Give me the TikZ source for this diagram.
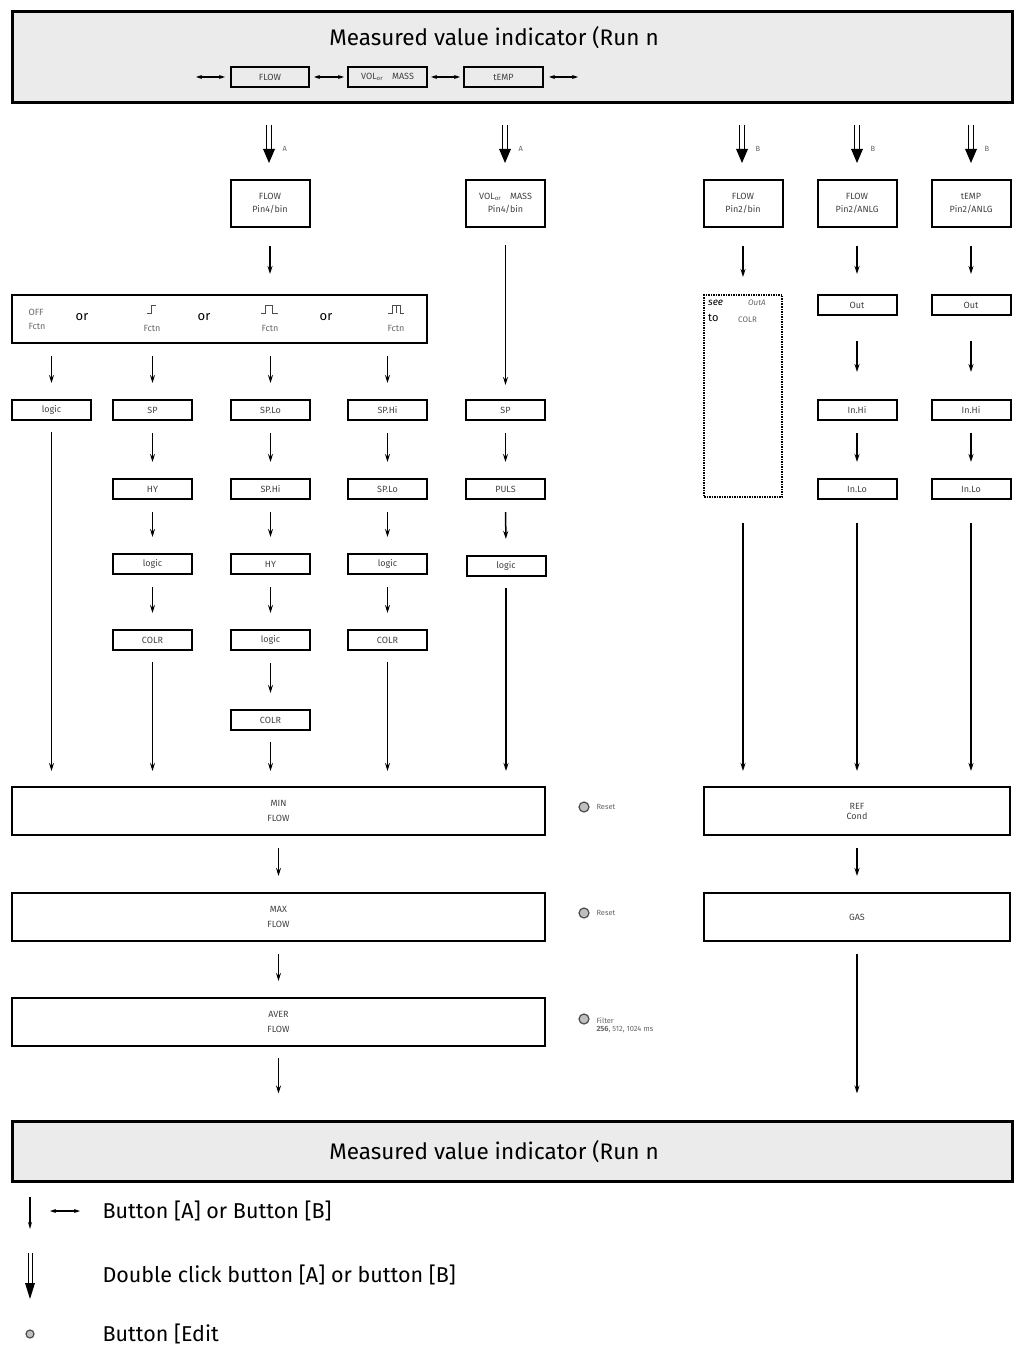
\documentclass[tikz,border=0pt]{standalone}
\usepackage{fontspec}
\setmainfont{Fira Sans}
\usetikzlibrary{arrows.meta,calc}
\begin{document}
\begin{tikzpicture}[x=1pt,y=-1pt,
  box/.style={draw,line width=2pt,minimum width=79pt,minimum height=20pt,inner sep=0pt,font=\fontsize{9}{10}\selectfont,text=black!75,align=center},
  tall/.style={box,minimum height=47pt},
  wide/.style={draw,line width=2pt,minimum height=48pt,inner sep=0pt,font=\fontsize{9}{10}\selectfont,text=black!75,align=center},
  arr/.style={line width=1.5pt,-{Stealth[length=8pt,width=5pt]},shorten <=12pt,shorten >=16pt},
  lng/.style={line width=1.5pt,-{Stealth[length=8pt,width=5pt]},shorten <=11pt,shorten >=15pt},
  harr/.style={line width=1.5pt,{Stealth[length=6pt,width=4pt]}-{Stealth[length=6pt,width=4pt]}},
  dbl/.style={line width=0.9pt},
  lab/.style={font=\fontsize{7.5}{8.5}\selectfont,text=black!60},
  btn/.style={circle,draw=black!70,fill=black!25,line width=1.2pt,minimum size=10pt,inner sep=0pt},
  leg/.style={anchor=west,font=\fontsize{21.5}{24}\selectfont}
]
\useasboundingbox (0,0) rectangle (1018,1348);
% top indicator
\node[draw,line width=3pt,fill=black!8,minimum width=1000pt,minimum height=91pt,inner sep=0pt] (top) at (512,57.5) {};
\node[font=\fontsize{22.5}{26}\selectfont] (toptxt) at (494,38) {Measured value indicator (Run n};
\node[box,minimum width=78pt,fill=black!8] (tf) at (270,77) {FLOW};
\node[box,minimum width=79pt,fill=black!8] (tv) at (387.5,77) {VOL\textsubscript{or}\quad MASS};
\node[box,minimum width=79pt,fill=black!8] (tt) at (503.5,77) {tEMP};
\coordinate (l0) at (196,77); \coordinate (r0) at (578,77);
\draw[harr,shorten >=5pt] (l0) -- (tf.west);
\draw[harr,shorten <=4pt,shorten >=3pt] (tf.east) -- (tv.west);
\draw[harr,shorten <=3pt,shorten >=3pt] (tv.east) -- (tt.west);
\draw[harr,shorten <=5pt] (tt.east) -- (r0);
% row 2 boxes
\node[tall] (f1) at (270,203.5) {FLOW\\[3pt]Pin4/bin};
\node[tall] (v1) at (505.5,203.5) {VOL\textsubscript{or}\quad MASS\\[3pt]Pin4/bin};
\node[tall] (f2) at (743,203.5) {FLOW\\[3pt]Pin2/bin};
\node[tall] (f3) at (857,203.5) {FLOW\\[3pt]Pin2/ANLG};
\node[tall] (t3) at (971,203.5) {tEMP\\[3pt]Pin2/ANLG};
% double arrows
\foreach \n/\x/\l in {da1/269/A,da2/505/A,da3/742/B,da4/857/B,da5/971/B}{
  \coordinate (\n) at (\x,125);
  \draw[dbl] ($(\n)+(-2.5,0)$) -- ++(0,25) ($(\n)+(2.5,0)$) -- ++(0,25);
  \fill ($(\n)+(-6,24)$) -- ($(\n)+(6,24)$) -- ($(\n)+(0,38)$) -- cycle;
  \node[lab,anchor=west] at ($(\n)+(10,24)$) {\l};
}
% Fctn box
\node[wide,minimum width=415pt] (fc) at (219.5,319) {};
\node[lab,font=\fontsize{9}{11}\selectfont,align=left] at (37,319) {OFF\\[3pt]Fctn};
\node[font=\fontsize{13}{14}\selectfont] at (82,317) {or};
\node[font=\fontsize{13}{14}\selectfont] at (204,317) {or};
\node[font=\fontsize{13}{14}\selectfont] at (326,317) {or};
\node[lab,font=\fontsize{9}{10}\selectfont] at (152,328) {Fctn};
\node[lab,font=\fontsize{9}{10}\selectfont] at (270,328) {Fctn};
\node[lab,font=\fontsize{9}{10}\selectfont] at (396,328) {Fctn};
\draw[black!70,line width=0.8pt] (147,313)--(151,313)--(151,305)--(156,305);
\draw[black!70,line width=0.8pt] (261,313)--(265,313)--(265,305)--(272,305)--(272,313)--(278,313);
\draw[black!70,line width=0.8pt] (388,313)--(392,313)--(392,305)--(400,305)--(400,313)--(404,313) (396,305)--(396,313);
% row boxes
\node[box] (lg1) at (51.5,410) {logic};
\node[box] (sp1) at (152.5,410) {SP};
\node[box] (spl) at (270.5,410) {SP.Lo};
\node[box] (sph) at (387.5,410) {SP.Hi};
\node[box] (sp2) at (505.5,410) {SP};
\node[box] (hy1) at (152.5,489) {HY};
\node[box] (sph2) at (270.5,489) {SP.Hi};
\node[box] (spl2) at (387.5,489) {SP.Lo};
\node[box] (pu) at (505.5,489) {PULS};
\node[box] (lg2) at (152.5,564) {logic};
\node[box] (hy2) at (270.5,564) {HY};
\node[box] (lg3) at (387.5,564) {logic};
\node[box] (lg4) at (506,566) {logic};
\node[box] (co1) at (152.5,640) {COLR};
\node[box] (lg5) at (270.5,640) {logic};
\node[box] (co3) at (387.5,640) {COLR};
\node[box] (co2) at (270.5,720) {COLR};
% right column
\node[draw,dash pattern=on 1.5pt off 1pt,line width=2pt,minimum width=78pt,minimum height=202pt,inner sep=0pt] (see) at (743,396) {};
\node[anchor=north west,font=\fontsize{10}{10}\selectfont\itshape,inner sep=0pt] at (708,300) {see};
\node[anchor=north west,font=\fontsize{11}{11}\selectfont,inner sep=0pt] at (708,314) {to};
\node[lab,anchor=north west,inner sep=0pt,font=\fontsize{8}{8}\selectfont\itshape] at (748,300) {OutA};
\node[lab,anchor=north west,inner sep=0pt,font=\fontsize{8}{8}\selectfont] at (738,317) {COLR};
\node[box] (o1) at (857,305) {Out};
\node[box] (o2) at (971,305) {Out};
\node[box] (ih1) at (857,410) {In.Hi};
\node[box] (ih2) at (971,410) {In.Hi};
\node[box] (il1) at (857,489) {In.Lo};
\node[box] (il2) at (971,489) {In.Lo};
% bottom wide boxes
\node[wide,minimum width=533pt] (min) at (278.5,811) {MIN\\[5pt]FLOW};
\node[wide,minimum width=533pt] (max) at (278.5,917) {MAX\\[5pt]FLOW};
\node[wide,minimum width=533pt] (ave) at (278.5,1022) {AVER\\[5pt]FLOW};
\node[wide,minimum width=306pt] (ref) at (857,811) {REF\\Cond};
\node[wide,minimum width=306pt] (gas) at (857,917) {GAS};
\node[btn] (b1) at (584,807) {}; \node[lab,anchor=west] at (593,807) {Reset};
\node[btn] (b2) at (584,913) {}; \node[lab,anchor=west] at (593,913) {Reset};
\node[btn] (b3) at (584,1019) {};
\node[lab,anchor=west,align=left,font=\fontsize{7.5}{8.5}\selectfont] at (593,1025) {Filter\\\textbf{256}, 512, 1024 ms};
% bottom indicator
\node[draw,line width=3pt,fill=black!8,minimum width=1000pt,minimum height=60pt,inner sep=0pt] (bot) at (512,1151) {};
\node[font=\fontsize{22.5}{26}\selectfont] (bottxt) at (494,1152) {Measured value indicator (Run n};
% arrows
\draw[arr,shorten <=18pt,shorten >=20pt] (f1.south) -- (f1.south |- fc.north);
\foreach \a in {lg1,sp1,spl,sph}
  \draw[arr] (\a.north |- fc.south) -- (\a.north);
\draw[lng,shorten <=17pt,shorten >=14pt] (v1.south) -- (sp2.north);
\foreach \a/\b in {sp1/hy1,hy1/lg2,lg2/co1,spl/sph2,sph2/hy2,hy2/lg5,lg5/co2,sph/spl2,spl2/lg3,lg3/co3,sp2/pu,pu/lg4,ih1/il1,ih2/il2}
  \draw[arr] (\a.south) -- (\b.north);
\draw[arr,shorten <=18pt,shorten >=17pt] (f2.south) -- (see.north);
\draw[arr,shorten <=18pt,shorten >=20pt] (f3.south) -- (o1.north);
\draw[arr,shorten <=18pt,shorten >=20pt] (t3.south) -- (o2.north);
\draw[arr,shorten <=25pt,shorten >=27pt] (o1.south) -- (ih1.north);
\draw[arr,shorten <=25pt,shorten >=27pt] (o2.south) -- (ih2.north);
\foreach \a in {lg1,co1,co2,co3,lg4}
  \draw[lng] (\a.south) -- (\a.south |- min.north);
\draw[lng,shorten <=25pt] (see.south) -- (see.south |- ref.north);
\draw[lng,shorten <=23pt] (il1.south) -- (il1.south |- ref.north);
\draw[lng,shorten <=23pt] (il2.south) -- (il2.south |- ref.north);
\draw[arr] (min) -- (max);
\draw[arr] (max) -- (ave);
\draw[arr] (ref) -- (gas);
\draw[lng,shorten >=26pt] (ave.south) -- (ave.south |- bot.north);
\draw[lng,shorten <=12pt,shorten >=26pt] (gas.south) -- (gas.south |- bot.north);
% legend
\coordinate (lg1a) at (30,1197); \coordinate (lg1b) at (30,1229);
\draw[line width=1.3pt,-{Stealth[length=7pt,width=4pt]}] (lg1a) -- (lg1b);
\coordinate (lh1) at (50,1211); \coordinate (lh2) at (80,1211);
\draw[harr] (lh1) -- (lh2);
\node[leg] (t1) at (99,1211) {Button [A] or Button [B]};
\coordinate (ld) at (30,1253);
\draw[dbl] ($(ld)+(-2,0)$) -- ++(0,32) ($(ld)+(2,0)$) -- ++(0,32);
\fill ($(ld)+(-5,30)$) -- ($(ld)+(5,30)$) -- ($(ld)+(0,46)$) -- cycle;
\node[leg] (t2) at (99,1275) {Double click button [A] or button [B]};
\node[btn,minimum size=8pt] (lb) at (30,1334) {};
\node[leg] (t3) at (99,1334) {Button [Edit};
\end{tikzpicture}
\end{document}
